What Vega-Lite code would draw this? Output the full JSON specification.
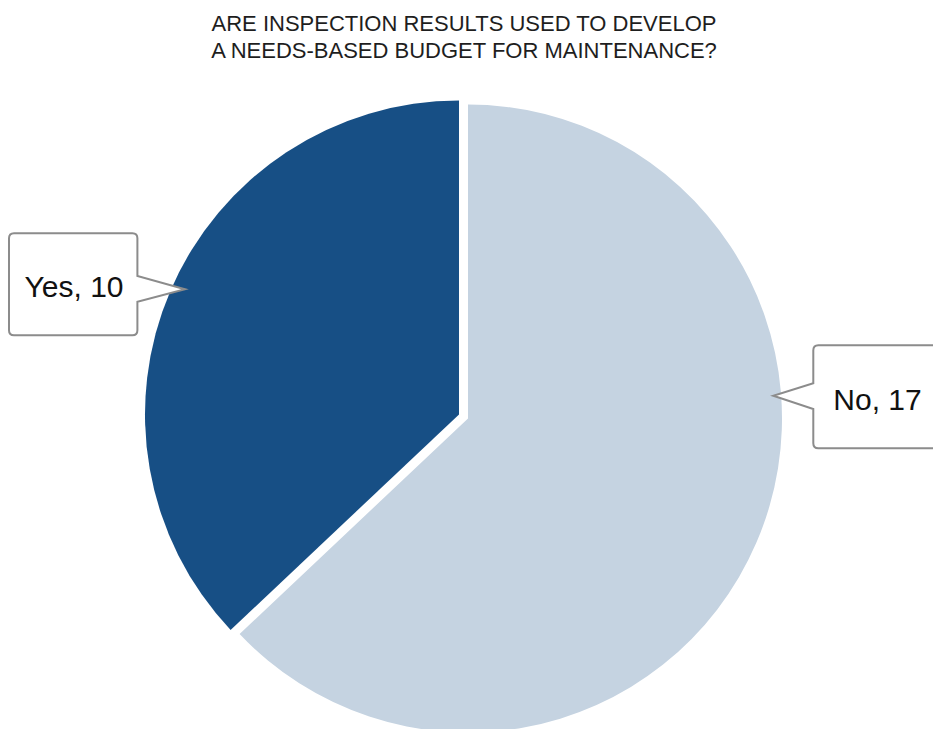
{
  "$schema": "https://vega.github.io/schema/vega-lite/v6.json",
  "width": 930,
  "height": 621,
  "autosize": {"type": "none"},
  "padding": {"left": 3, "top": 108, "right": 0, "bottom": 0},
  "background": "#ffffff",
  "config": {"view": {"stroke": null}},
  "title": {
    "text": ["ARE INSPECTION RESULTS USED TO DEVELOP", "A NEEDS-BASED BUDGET FOR MAINTENANCE?"],
    "font": "Liberation Sans",
    "fontSize": 22,
    "fontWeight": "normal",
    "color": "#1e1e1e",
    "lineHeight": 27,
    "anchor": "middle",
    "offset": 38,
    "dx": -4
  },
  "data": {
    "values": [
      {"answer": "No", "count": 17, "label": "No, 17"},
      {"answer": "Yes", "count": 10, "label": "Yes, 10"}
    ]
  },
  "transform": [
    {"stack": "count", "groupby": [], "sort": [{"field": "answer", "order": "ascending"}], "as": ["start", "end"]}
  ],
  "layer": [
    {
      "transform": [{"filter": "datum.answer === 'No'"}],
      "mark": {"type": "arc", "radius": 314, "fill": "#c5d3e1", "stroke": null},
      "encoding": {
        "theta": {"field": "start", "type": "quantitative", "scale": {"domain": [0, 27]}},
        "theta2": {"field": "end"}
      }
    },
    {
      "transform": [{"filter": "datum.answer === 'Yes'"}],
      "mark": {"type": "arc", "radius": 314, "fill": "#174f85", "stroke": null, "xOffset": -9, "yOffset": -4},
      "encoding": {
        "theta": {"field": "start", "type": "quantitative"},
        "theta2": {"field": "end"}
      }
    },
    {
      "transform": [{"filter": "datum.answer === 'Yes'"}],
      "mark": {
        "type": "point",
        "shape": "M -59.2 -51 H 59.2 Q 64.2 -51 64.2 -46 V -8.2 L 111.8 5.1 L 64.2 17.5 V 46 Q 64.2 51 59.2 51 H -59.2 Q -64.2 51 -64.2 46 V -46 Q -64.2 -51 -59.2 -51 Z",
        "size": 4,
        "filled": true,
        "fill": "#ffffff",
        "stroke": "#8c8c8c",
        "strokeWidth": 2,
        "opacity": 1,
        "xOffset": -394.8,
        "yOffset": -134.3
      },
      "encoding": {}
    },
    {
      "transform": [{"filter": "datum.answer === 'No'"}],
      "mark": {
        "type": "point",
        "shape": "M -59.2 -51.5 H 59.2 Q 64.2 -51.5 64.2 -46.5 V 46.5 Q 64.2 51.5 59.2 51.5 H -59.2 Q -64.2 51.5 -64.2 46.5 V 12.3 L -104.2 -1 L -64.2 -13.4 V -46.5 Q -64.2 -51.5 -59.2 -51.5 Z",
        "size": 4,
        "filled": true,
        "fill": "#ffffff",
        "stroke": "#8c8c8c",
        "strokeWidth": 2,
        "opacity": 1,
        "xOffset": 409.5,
        "yOffset": -21.8
      },
      "encoding": {}
    },
    {
      "transform": [{"filter": "datum.answer === 'Yes'"}],
      "mark": {"type": "text", "font": "Liberation Sans", "fontSize": 30, "color": "#111111", "align": "center", "baseline": "alphabetic", "dx": -394, "dy": -121.5},
      "encoding": {"text": {"field": "label"}}
    },
    {
      "transform": [{"filter": "datum.answer === 'No'"}],
      "mark": {"type": "text", "font": "Liberation Sans", "fontSize": 30, "color": "#111111", "align": "center", "baseline": "alphabetic", "dx": 409.5, "dy": -8.5},
      "encoding": {"text": {"field": "label"}}
    }
  ]
}
